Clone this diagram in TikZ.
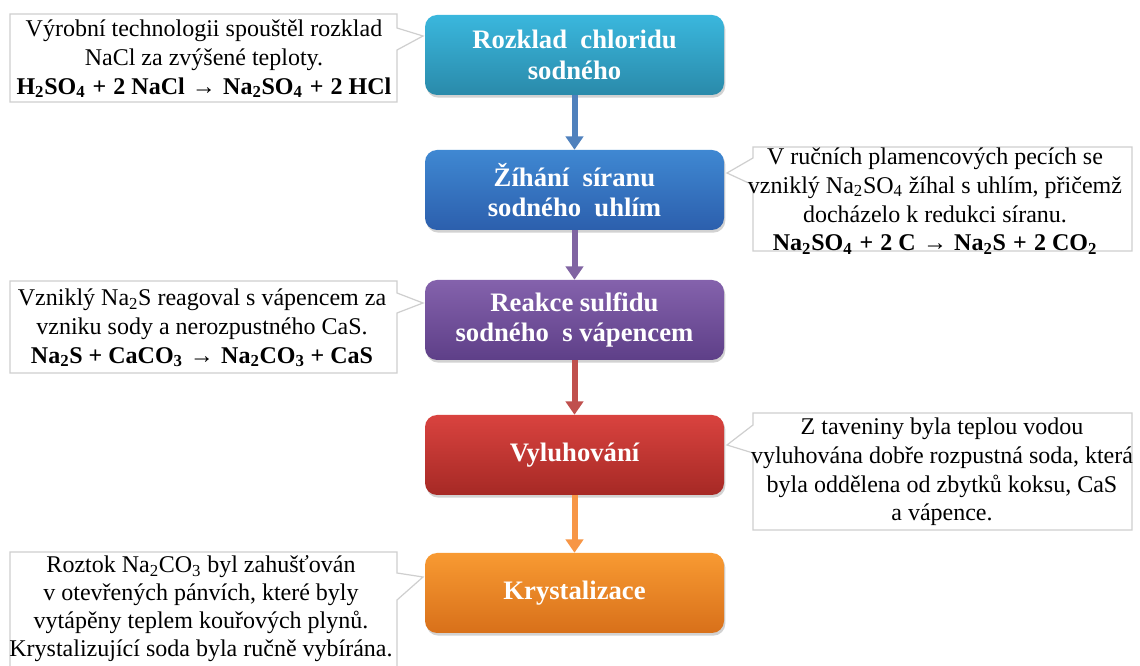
\documentclass[tikz,border=0pt]{standalone}
\usepackage{fontspec}
\setmainfont{Liberation Serif}
\usetikzlibrary{arrows.meta,shadows}
\definecolor{arrblue}{HTML}{4F81BD}
\definecolor{arrpurple}{HTML}{8064A2}
\definecolor{arrred}{HTML}{C0504D}
\definecolor{arrorange}{HTML}{F79646}
\definecolor{calloutline}{HTML}{CFCFCF}
\definecolor{tealtop}{HTML}{3AB7DD}
\definecolor{tealbot}{HTML}{2A8AAA}
\definecolor{bluetop}{HTML}{3F88D2}
\definecolor{bluebot}{HTML}{2C5FAD}
\definecolor{purptop}{HTML}{8462AC}
\definecolor{purpbot}{HTML}{5E3F88}
\definecolor{redtop}{HTML}{D9433F}
\definecolor{redbot}{HTML}{A62925}
\definecolor{orantop}{HTML}{F89A32}
\definecolor{oranbot}{HTML}{D8701A}
\newcommand{\eqsp}{\hspace{0.3em}}
\tikzset{
  stage/.style={rounded corners=9pt, minimum width=224.25pt, minimum height=60pt,
    text=white, font=\fontsize{20}{23}\selectfont\bfseries, align=center,
    drop shadow={opacity=0.35, shadow xshift=1pt, shadow yshift=-2pt}},
  note/.style={align=center, font=\fontsize{18}{21.6}\selectfont, inner sep=0pt},
  callout/.style={fill=white, draw=calloutline, line width=0.9pt, line join=miter},
  flow/.style={line width=4.5pt, -{Triangle[width=13pt,length=10pt]}}
}
\begin{document}
\begin{tikzpicture}[x=0.75pt,y=-0.75pt]
\useasboundingbox (0,0) rectangle (1140,666);
\fill[white] (0,0) rectangle (1140,666);

% callout outlines
\path[callout] (10,14) -- (397,14) -- (397,28) -- (423,36) -- (397,50) -- (397,102) -- (10,102) -- cycle;
\path[callout] (1132,147) -- (753,147) -- (753,158) -- (727,173) -- (753,185) -- (753,251) -- (1132,251) -- cycle;
\path[callout] (10,281) -- (397,281) -- (397,293) -- (423,303) -- (397,313) -- (397,373) -- (10,373) -- cycle;
\path[callout] (1132,413) -- (753,413) -- (753,425) -- (727,445) -- (753,453) -- (753,530) -- (1132,530) -- cycle;
\path[callout] (10,670) -- (10,552) -- (397,552) -- (397,573) -- (423,577) -- (397,600) -- (397,670);

% stages
\node[stage, top color=tealtop, bottom color=tealbot] (s1) at (574.5,55) {Rozklad\ \ chloridu\\sodného};
\node[stage, top color=bluetop, bottom color=bluebot] (s2) at (574.5,190) {Žíhání\ \ síranu\\sodného\ \ uhlím};
\node[stage, top color=purptop, bottom color=purpbot] (s3) at (574.5,320) {Reakce sulfidu\\sodného\ \ s vápencem};
\node[stage, top color=redtop, bottom color=redbot] (s4) at (574.5,455) {Vyluhování};
\node[stage, top color=orantop, bottom color=oranbot] (s5) at (574.5,593) {Krystalizace};

% connectors
\draw[flow, draw=arrblue, fill=arrblue] (s1) -- (s2);
\draw[flow, draw=arrpurple, fill=arrpurple] (s2) -- (s3);
\draw[flow, draw=arrred, fill=arrred] (s3) -- (s4);
\draw[flow, draw=arrorange, fill=arrorange] (s4) -- (s5);

% notes
\node[note] (n1) at (204,59) {Výrobní technologii spouštěl rozklad\\NaCl za zvýšené teploty.\\
  \textbf{H\textsubscript{2}SO\textsubscript{4}\eqsp+\eqsp2 NaCl\eqsp→\eqsp Na\textsubscript{2}SO\textsubscript{4}\eqsp+\eqsp2 HCl}};
\node[note] (n2) at (935,201) {V ručních plamencových pecích se\\vzniklý Na\textsubscript{2}SO\textsubscript{4} žíhal s uhlím, přičemž\\docházelo k redukci síranu.\\
  \textbf{Na\textsubscript{2}SO\textsubscript{4}\eqsp+\eqsp2 C\eqsp→\eqsp Na\textsubscript{2}S\eqsp+\eqsp2 CO\textsubscript{2}}};
\node[note] (n3) at (202,328) {Vzniklý Na\textsubscript{2}S reagoval s vápencem za\\vzniku sody a nerozpustného CaS.\\
  \textbf{Na\textsubscript{2}S + CaCO\textsubscript{3}\eqsp→\eqsp Na\textsubscript{2}CO\textsubscript{3} + CaS}};
\node[note] (n4) at (942,472) {Z taveniny byla teplou vodou\\vyluhována dobře rozpustná soda, která\\byla oddělena od zbytků koksu, CaS\\a vápence.};
\node[note, font=\fontsize{18}{21}\selectfont] (n5) at (201,609) {Roztok Na\textsubscript{2}CO\textsubscript{3} byl zahušťován\\v otevřených pánvích, které byly\\vytápěny teplem kouřových plynů.\\Krystalizující soda byla ručně vybírána.};
\end{tikzpicture}
\end{document}
